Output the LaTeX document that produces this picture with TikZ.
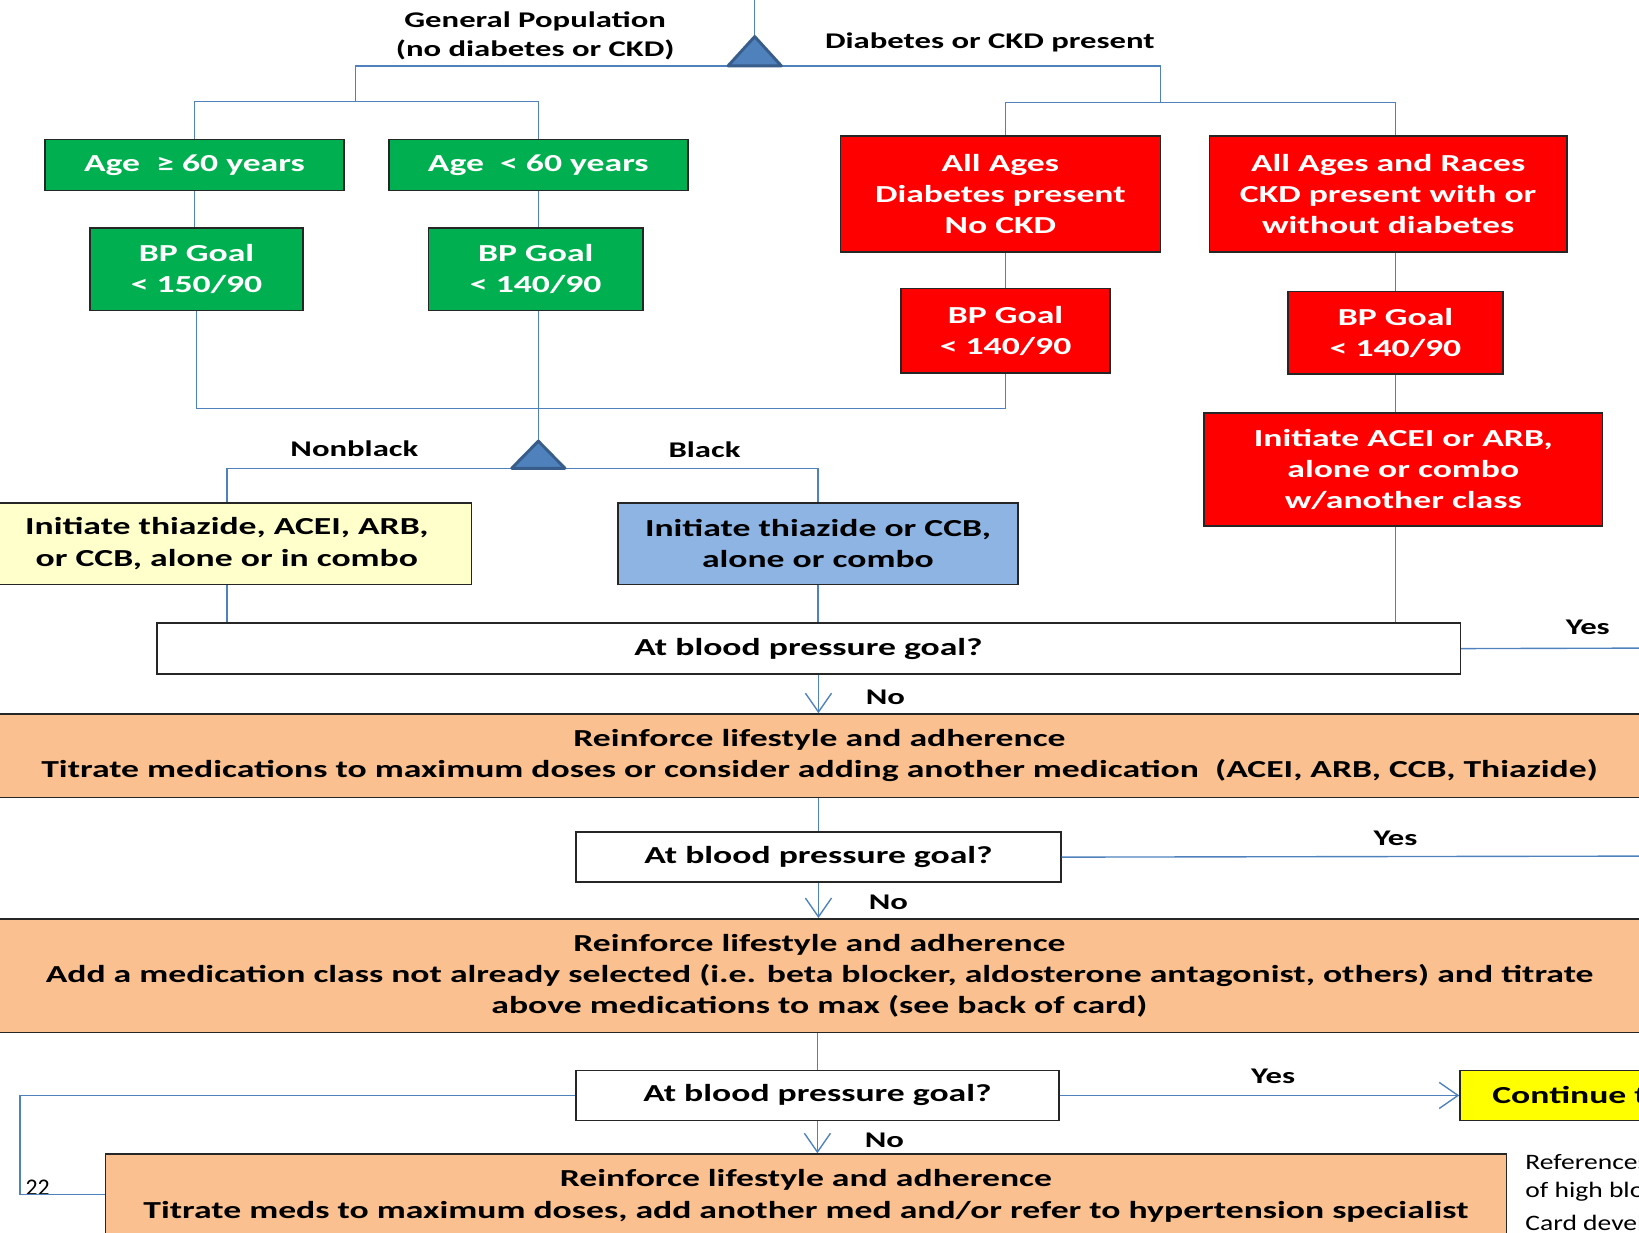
\documentclass[tikz,border=0pt]{standalone}
\usepackage{fontspec}
\setmainfont{Carlito}
\newfontfamily\cardfont[FakeStretch=1.46]{Carlito}
\newfontfamily\notefont[FakeStretch=1.25]{Carlito}
\usetikzlibrary{arrows.meta}

\definecolor{linkblue}{RGB}{79,129,189}
\definecolor{tridark}{RGB}{56,93,138}
\definecolor{goalgreen}{RGB}{0,176,80}
\definecolor{ckdred}{RGB}{255,0,0}
\definecolor{paleyellow}{RGB}{255,255,204}
\definecolor{paleblue}{RGB}{142,180,227}
\definecolor{peach}{RGB}{250,192,144}
\definecolor{brightyellow}{RGB}{255,255,0}
\definecolor{edgegray}{RGB}{38,38,38}
\newcommand{\unitpx}{0.02cm}

\tikzset{
  card/.style={draw=edgegray, line width=0.8pt, inner sep=0pt, align=center,
    font=\cardfont\bfseries\fontsize{13.3}{17}\selectfont},
  greencard/.style={card, fill=goalgreen, text=white},
  redcard/.style={card, fill=ckdred, text=white},
  nbcard/.style={card, fill=paleyellow},
  bkcard/.style={card, fill=paleblue},
  askcard/.style={card, fill=white},
  stepcard/.style={card, fill=peach},
  contcard/.style={card, fill=brightyellow},
  tag/.style={inner sep=0pt, align=center,
    font=\cardfont\bfseries\fontsize{12.2}{16}\selectfont},
  link/.style={draw=linkblue, line width=0.75pt},
  flow/.style={link, -{Straight Barb[length=3.6mm,width=5mm,line width=0.75pt]}},
  splitmark/.style={fill=linkblue, draw=tridark, line width=1.6pt, line join=round},
}

\begin{document}
\begin{tikzpicture}[x=\unitpx, y=-\unitpx]
  %%%%% START %%%%%
  \useasboundingbox (0,0) rectangle (1568,1179);
  \clip (0,0) rectangle (1568,1179);

  % general population side
  \node[greencard, minimum width=286*\unitpx, minimum height=49*\unitpx] (age60) at (186,158) {Age\ \ ≥ 60 years};
  \node[greencard, minimum width=286*\unitpx, minimum height=49*\unitpx] (age59) at (515,158) {Age\ \ < 60 years};
  \node[greencard, minimum width=204*\unitpx, minimum height=79*\unitpx] (goal150) at (188,257.5) {BP Goal\\< 150/90};
  \node[greencard, minimum width=205*\unitpx, minimum height=79*\unitpx] (goal140a) at (512.5,257.5) {BP Goal\\< 140/90};

  % diabetes or ckd side
  \node[redcard, minimum width=306*\unitpx, minimum height=111*\unitpx] (diab) at (957,185.5) {All Ages\\Diabetes present\\No CKD};
  \node[redcard, minimum width=342*\unitpx, minimum height=111*\unitpx] (ckd) at (1328,185.5) {All Ages and Races\\CKD present with or\\without diabetes};
  \node[redcard, minimum width=200*\unitpx, minimum height=81*\unitpx] (goal140b) at (962,316.5) {BP Goal\\< 140/90};
  \node[redcard, minimum width=206*\unitpx, minimum height=79*\unitpx] (goal140c) at (1335,318.5) {BP Goal\\< 140/90};
  \node[redcard, minimum width=381*\unitpx, minimum height=108*\unitpx] (acei) at (1342.5,449) {Initiate ACEI or ARB,\\alone or combo\\w/another class};

  % race split
  \node[nbcard, minimum width=468*\unitpx, minimum height=78*\unitpx] (nonblack) at (217,520) {Initiate thiazide, ACEI, ARB,\\or CCB, alone or in combo};
  \node[bkcard, minimum width=383*\unitpx, minimum height=78*\unitpx] (black) at (782.5,520) {Initiate thiazide or CCB,\\alone or combo};

  % steps
  \node[askcard, minimum width=1247*\unitpx, minimum height=49*\unitpx] (check1) at (773.5,620.5) {At blood pressure goal?};
  \node[stepcard, minimum width=1600*\unitpx, minimum height=80*\unitpx] (step1) at (784,723) {Reinforce lifestyle and adherence\\Titrate medications to maximum doses or consider adding another medication\ \ (ACEI, ARB, CCB, Thiazide)};
  \node[askcard, minimum width=464*\unitpx, minimum height=48*\unitpx] (check2) at (783,820) {At blood pressure goal?};
  \node[stepcard, minimum width=1600*\unitpx, minimum height=109*\unitpx] (step2) at (784,933.5) {Reinforce lifestyle and adherence\\Add a medication class not already selected (i.e. beta blocker, aldosterone antagonist, others) and titrate\\above medications to max (see back of card)};
  \node[askcard, minimum width=462*\unitpx, minimum height=48*\unitpx] (check3) at (782,1048) {At blood pressure goal?};
  \node[contcard, anchor=west, minimum width=200*\unitpx, minimum height=48*\unitpx, inner xsep=31*\unitpx, align=left] (cont) at (1396,1048) {Continue treatment};
  \node[stepcard, minimum width=1340*\unitpx, minimum height=80*\unitpx] (step3) at (771,1144) {Reinforce lifestyle and adherence\\Titrate meds to maximum doses, add another med and/or refer to hypertension specialist};

  % labels
  \node[tag] (lblgp) at (512,34) {General Population\\(no diabetes or CKD)};
  \node[tag] (lbldc) at (947,41) {Diabetes or CKD present};
  \node[tag] (lblnb) at (339,429) {Nonblack};
  \node[tag] (lblbk) at (674,430) {Black};
  \node[tag] (yes1) at (1519,600) {Yes};
  \node[tag] (no1) at (847,667) {No};
  \node[tag] (yes2) at (1335,802) {Yes};
  \node[tag] (no2) at (850,863) {No};
  \node[tag] (yes3) at (1218,1030) {Yes};
  \node[tag] (no3) at (846,1091) {No};
  \node[inner sep=0pt, font=\fontsize{13}{15}\selectfont] (pagenum) at (36,1136) {22};
  \node[anchor=north west, inner sep=0pt, align=left, font=\notefont\fontsize{12}{15}\selectfont] (refs) at (1459,1104) {References\\of high blood\\[3pt]Card developed};

  % split points
  \coordinate (entry) at (722,-10);
  \coordinate (split1) at (722,63);
  \coordinate (gpjoin) at (340,97);
  \coordinate (dcjoin) at (1110,98);
  \coordinate (merge) at (514,391);
  \coordinate (split2) at (515,448);
  \coordinate (yesend1) at (1580,620);
  \coordinate (yesend2) at (1580,819);
  \coordinate (loopturn) at (19,1143);

  \draw[link] (entry) -- (722,35);
  \draw[link] (split1) -| (gpjoin) -| (age60.north);
  \draw[link] (gpjoin) -| (age59.north);
  \draw[link] (split1) -| (dcjoin) -| (goal140b.north |- diab.north);
  \draw[link] (dcjoin) -| (goal140c.north |- ckd.north);
  \draw[splitmark] (split1) ++(0,-28) -- ++(25.5,28) -- ++(-51,0) -- cycle;

  \draw[link] (age60.south) -- (age60.south |- goal150.north);
  \draw[link] (age59.south) -- (age59.south |- goal140a.north);
  \draw[link] (diab.south -| goal140b.north) -- (goal140b.north);
  \draw[link] (ckd.south -| goal140c.north) -- (goal140c.north);
  \draw[link] (goal140c.south) -- (goal140c.south |- acei.north);

  \draw[link] (goal150.south) |- (merge) -| (goal140b.south);
  \draw[link] (goal140a.south -| split2) -- (split2);
  \draw[link] (split2) -| (nonblack.north);
  \draw[link] (split2) -| (black.north);
  \draw[splitmark] (split2) ++(0,-26) -- ++(25.5,26) -- ++(-51,0) -- cycle;

  \draw[link] (nonblack.south) -- (nonblack.south |- check1.north);
  \draw[link] (black.south) -- (black.south |- check1.north);
  \draw[link] (acei.south -| goal140c.south) -- (goal140c.south |- check1.north);
  \draw[link] (check1.east) -- (yesend1);
  \draw[flow] (check1.south -| check2.north) -- (check2.north |- step1.north);

  \draw[link] (step1.south -| check2.north) -- (check2.north);
  \draw[link] (check2.east) -- (yesend2);
  \draw[flow] (check2.south) -- (check2.south |- step2.north);

  \draw[link] (step2.south -| check3.north) -- (check3.north);
  \draw[flow] (check3.east) -- (cont.west);
  \draw[link] (check3.west) -| (loopturn) -- (loopturn -| step3.west);
  \draw[flow] (check3.south) -- (check3.south |- step3.north);

  %%%%% END %%%%%
\end{tikzpicture}
\end{document}
